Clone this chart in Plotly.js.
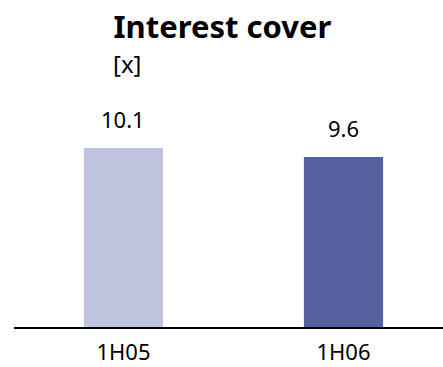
<!DOCTYPE html>
<html><head><meta charset="utf-8">
<script src="https://cdn.plot.ly/plotly-3.0.1.min.js"></script>
<style>html,body{margin:0;padding:0;background:#fff}#c{width:443px;height:367px}</style>
</head><body><div id="c"></div>
<script>
const categories = ["1H05", "1H06"];
const values = [10.1, 9.6];
const valueLabels = ["10.1", "9.6"];
const barColors = ["#c0c3de", "#55629f"];
const FONT = "Noto Sans, Open Sans, sans-serif";

const data = [{
  type: "bar",
  x: categories,
  y: values,
  marker: {color: barColors},
  width: 0.36,
  hoverinfo: "none"
}];

const annotations = categories.map((c, i) => ({
  x: c, y: values[i], xref: "x", yref: "y",
  text: valueLabels[i], showarrow: false,
  yanchor: "bottom", yshift: 12,
  font: {family: FONT, size: 22, color: "#000"}
}));
annotations.push({
  x: 0.265, y: 1.235, xref: "paper", yref: "paper",
  text: "[x]", showarrow: false, xanchor: "center", yanchor: "middle",
  font: {family: FONT, size: 24, color: "#000"}
});

const layout = {
  width: 443, height: 367,
  margin: {l: 14, r: 0, t: 114, b: 40},
  paper_bgcolor: "#fff", plot_bgcolor: "#fff",
  showlegend: false,
  title: {
    text: "<b>Interest cover</b>",
    x: 0.502, xref: "container", xanchor: "center",
    y: 0.925, yref: "container", yanchor: "middle",
    font: {family: FONT, size: 31, color: "#000"}
  },
  xaxis: {
    type: "category",
    range: [-0.4977, 1.4523],
    showline: true, linecolor: "#000", linewidth: 2,
    ticks: "", showgrid: false, zeroline: false,
    ticklabelstandoff: 5,
    tickfont: {family: FONT, size: 22, color: "#000"},
    fixedrange: true
  },
  yaxis: {
    range: [0, 12.02],
    showticklabels: false, showgrid: false, zeroline: false, showline: false,
    ticks: "", fixedrange: true
  },
  annotations: annotations
};

Plotly.newPlot("c", data, layout, {staticPlot: true, displayModeBar: false});
</script></body></html>
